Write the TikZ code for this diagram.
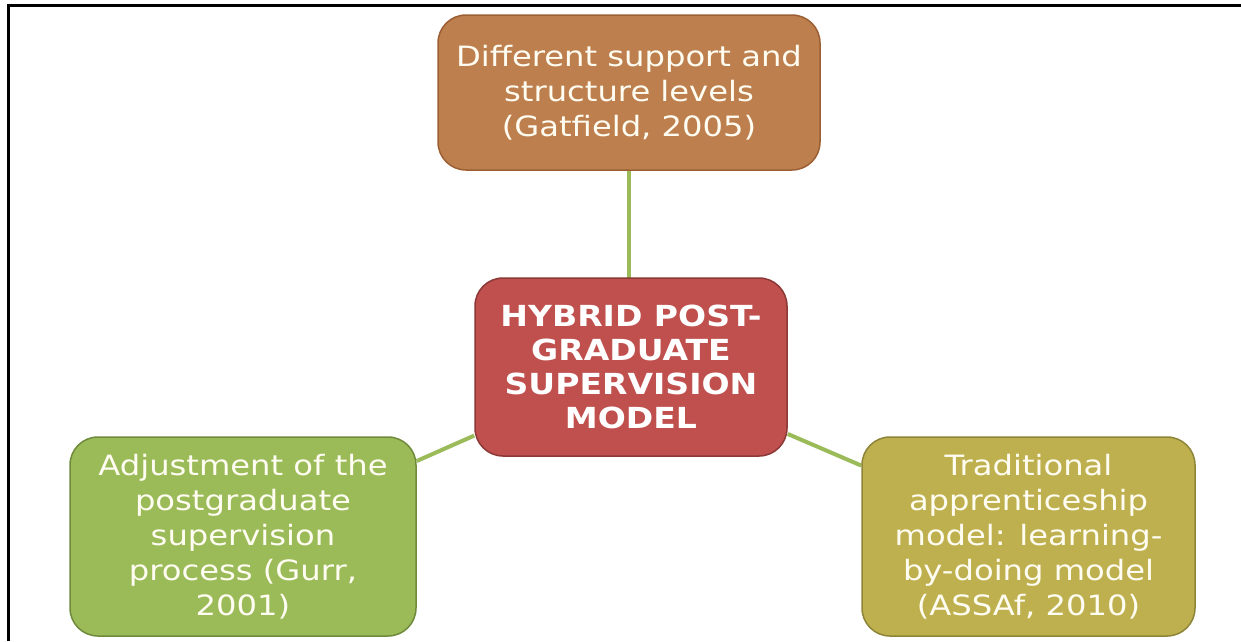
\documentclass[tikz,border=0pt]{standalone}
\usepackage{fontspec}
\setmainfont{DejaVu Sans}
\newfontfamily\boxfont{DejaVu Sans}[FakeStretch=1.15]
\newfontfamily\hubfont{DejaVu Sans Bold}[FakeStretch=1.14]
\usetikzlibrary{backgrounds}
\definecolor{topfill}{HTML}{BE7F4E}
\definecolor{topline}{HTML}{9C5F33}
\definecolor{hubfill}{HTML}{C0504D}
\definecolor{hubline}{HTML}{8C3836}
\definecolor{leftfill}{HTML}{9BBB59}
\definecolor{leftline}{HTML}{6F8A3B}
\definecolor{rightfill}{HTML}{BFB04F}
\definecolor{rightline}{HTML}{8D8437}
\definecolor{linkcol}{HTML}{9BBB59}
\definecolor{cardtext}{HTML}{FFFDF2}
\tikzset{
  card/.style={draw, rounded corners=28pt, line width=1.5pt, inner sep=0pt,
    align=center, text=cardtext, font=\boxfont\fontsize{28}{35}\selectfont},
  hubcard/.style={card, text=white, font=\hubfont\fontsize{29}{34}\selectfont},
  link/.style={draw=linkcol, line width=4pt},
  frameline/.style={line width=3pt}
}
\begin{document}
\begin{tikzpicture}[x=1pt,y=-1pt]
\useasboundingbox (0,0) rectangle (1241,641);
\draw[frameline] (8,641) -- (8,5) -- (1241,5);
\node[card, fill=topfill, draw=topline, minimum width=382pt, minimum height=155pt]
  (top) at (629,92.5) {Different support and\\structure levels\\(Gatfield, 2005)};
\node[hubcard, fill=hubfill, draw=hubline, minimum width=312pt, minimum height=178pt]
  (hub) at (631,367) {HYBRID POST-\\GRADUATE\\SUPERVISION\\MODEL};
\node[card, fill=leftfill, draw=leftline, minimum width=346pt, minimum height=199pt]
  (left) at (243,536.5) {Adjustment of the\\postgraduate\\supervision\\process (Gurr,\\2001)};
\node[card, fill=rightfill, draw=rightline, minimum width=333pt, minimum height=199pt]
  (right) at (1028.5,536.5) {Traditional\\apprenticeship\\model: learning-\\by-doing model\\(ASSAf, 2010)};
\begin{scope}[on background layer]
\draw[link] (top) -- (top |- hub);
\draw[link] (hub) -- (left);
\draw[link] (hub) -- (right);
\end{scope}
\end{tikzpicture}
\end{document}
